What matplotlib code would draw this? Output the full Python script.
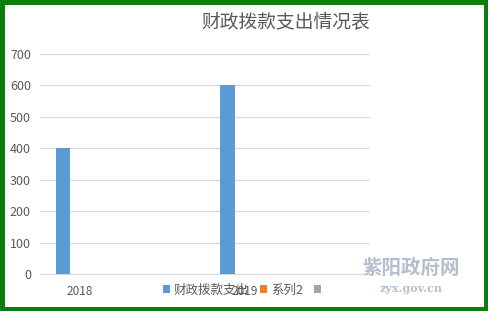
import matplotlib
matplotlib.use('Agg')
import matplotlib.pyplot as plt
from matplotlib.patches import Rectangle
import numpy as np

plt.rcParams['font.family'] = ['Noto Sans CJK SC', 'DejaVu Sans']

categories = ['2018', '2019']
series_names = ['财政拨款支出', '系列2', '']
series_values = [[400, 600], [0, 0], [0, 0]]
colors = ['#5b9bd5', '#ed7d31', '#a5a5a5']
yticks = [0, 100, 200, 300, 400, 500, 600, 700]

fig = plt.figure(figsize=(4.88, 3.11), dpi=100)
ax = fig.add_axes([40 / 488, 37 / 311, 330 / 488, 220 / 311])

x = np.arange(len(categories))
w = 0.087
handles = []
for i, (name, vals) in enumerate(zip(series_names, series_values)):
    h = ax.bar(x + 0.14 + i * w, vals, width=w, color=colors[i], label=name, zorder=3)
    handles.append(h)

ax.set_xlim(0, 2.006)
ax.set_ylim(0, 700)
ax.set_yticks(yticks)
ax.set_xticks(x + 0.243)
ax.set_xticklabels(categories)
ax.grid(axis='y', color='#d9d9d9', linewidth=0.9, zorder=0)
for s in ['top', 'right', 'left']:
    ax.spines[s].set_visible(False)
ax.spines['bottom'].set_color('#d9d9d9')
ax.tick_params(axis='both', length=0, colors='#595959')
ax.tick_params(axis='x', pad=8, labelsize=8.5)
ax.tick_params(axis='y', pad=6.5, labelsize=9)

fig.text(286 / 488, 1 - 22 / 311, '财政拨款支出情况表', ha='center', va='center',
         fontsize=13.5, color='#595959')

leg = fig.legend(handles, series_names, loc='center', bbox_to_anchor=(244 / 488, 1 - 290 / 311),
                 ncol=3, frameon=False, fontsize=9, handlelength=0.55, handleheight=0.55,
                 handletextpad=0.3, columnspacing=0.9, borderpad=0)
for t in leg.get_texts():
    t.set_color('#595959')

# watermark
fig.text(411 / 488, 1 - 268 / 311, '紫阳政府网', ha='center', va='center', fontsize=14,
         color='#b3bfcf', fontweight='bold')
fig.text(411 / 488, 1 - 288 / 311, 'zyx.gov.cn', ha='center', va='center', fontsize=8,
         color='#b3bfcf', family='DejaVu Serif', fontweight='bold')

# green frame
fig.patches.append(Rectangle((0.002, 0.004), 0.996, 0.992, transform=fig.transFigure,
                             fill=False, edgecolor='#0b7d0b', linewidth=5))

fig.savefig('out.png', dpi=100)
